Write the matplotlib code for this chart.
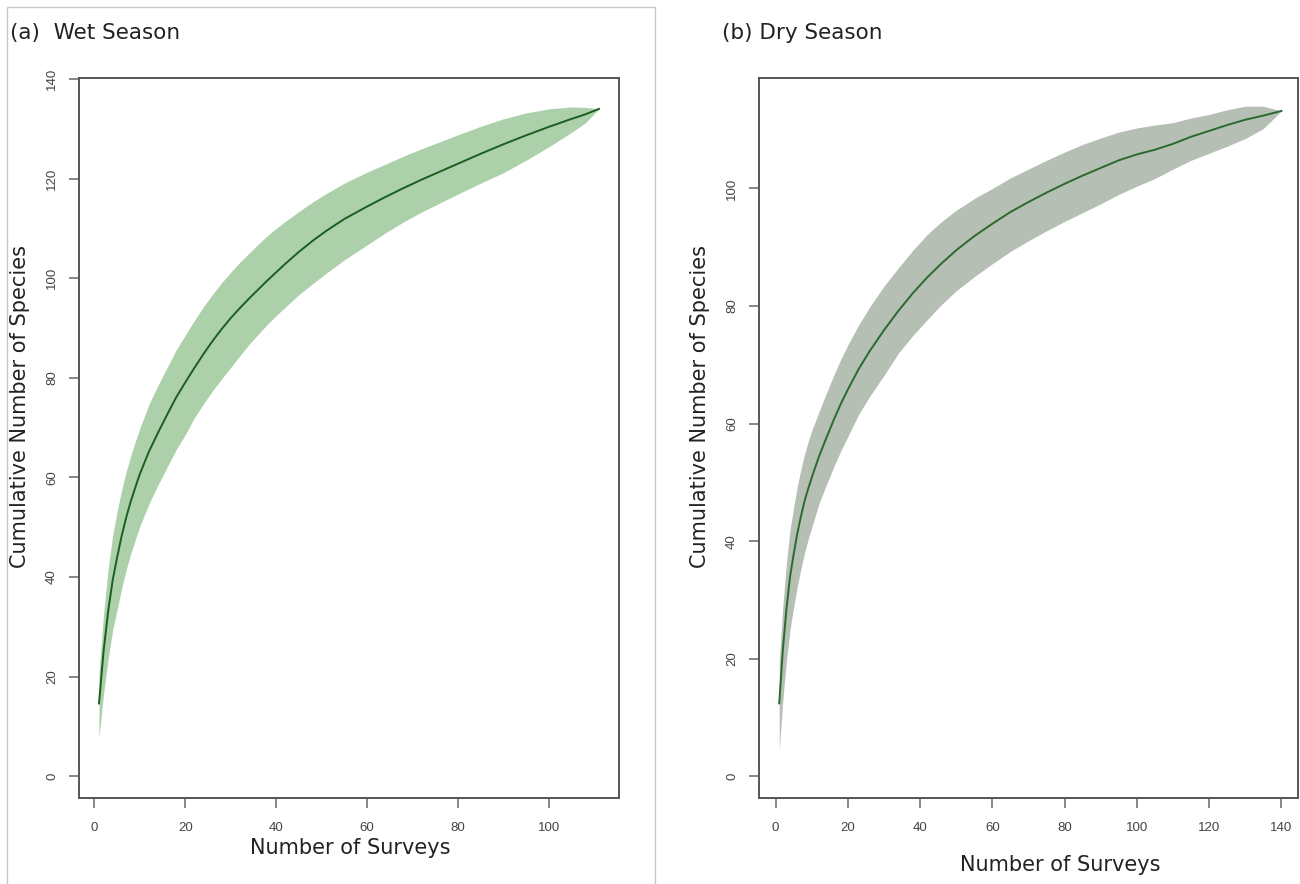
import matplotlib
matplotlib.use("Agg")
import matplotlib.pyplot as plt
from matplotlib.patches import Rectangle

# ---- Data ----
wet_x = [1, 2, 3, 4, 5, 6, 7, 8, 9, 10, 12, 14, 16, 18, 20, 22, 24, 26, 28, 30,
         32, 34, 36, 38, 40, 42, 45, 48, 51, 55, 60, 64, 68, 72, 76, 80, 85, 90,
         95, 100, 105, 108, 111]
wet_mean = [14.6, 25, 33, 39.3, 44, 48.3, 52, 55.2, 58, 60.7, 65.2, 69.0, 72.6, 76.1,
            79.1, 82.0, 84.8, 87.4, 89.8, 92.0, 94.0, 95.9, 97.7, 99.5, 101.2, 102.9,
            105.3, 107.5, 109.5, 111.9, 114.4, 116.3, 118.1, 119.8, 121.4, 123.0,
            125.0, 126.9, 128.7, 130.4, 132.0, 132.9, 134.0]
wet_upper = [20.6, 32.5, 41.5, 48.3, 53.2, 57.5, 61.2, 64.4, 67.2, 69.9, 74.7, 78.5,
             82.1, 85.6, 88.6, 91.5, 94.3, 96.8, 99.1, 101.2, 103.2, 105.0, 106.8,
             108.5, 110.0, 111.4, 113.4, 115.3, 117.0, 119.1, 121.3, 122.9, 124.5,
             126.0, 127.4, 128.8, 130.5, 132.0, 133.2, 134.0, 134.4, 134.3, 134.0]
wet_lower = [7.6, 16.5, 23.5, 29.3, 33.5, 37.8, 41.5, 44.7, 47.5, 50.2, 54.7, 58.5,
             62.1, 65.6, 68.6, 72.0, 74.8, 77.4, 79.8, 82.1, 84.4, 86.7, 88.7, 90.7,
             92.5, 94.2, 96.7, 98.9, 101.0, 103.7, 106.7, 109.1, 111.3, 113.3, 115.1,
             116.9, 119.1, 121.2, 123.7, 126.4, 129.3, 131.2, 134.0]

dry_x = [1, 2, 3, 4, 5, 6, 7, 8, 9, 10, 12, 14, 16, 18, 20, 23, 26, 30, 34, 38, 42,
         46, 50, 55, 60, 65, 70, 75, 80, 85, 90, 95, 100, 105, 110, 115, 120, 125,
         130, 135, 140]
dry_mean = [12.4, 21.5, 28.5, 34, 37.8, 41.3, 44.2, 46.8, 48.9, 50.8, 54.4, 57.5,
            60.5, 63.3, 65.8, 69.3, 72.3, 75.9, 79.2, 82.2, 84.9, 87.3, 89.5, 91.9,
            94.0, 96.0, 97.7, 99.3, 100.8, 102.2, 103.5, 104.8, 105.8, 106.6, 107.6,
            108.8, 109.8, 110.8, 111.7, 112.4, 113.2]
dry_upper = [19.4, 29.0, 36.3, 42.0, 45.8, 49.3, 52.2, 54.8, 56.9, 58.8, 62.0, 65.1,
             68.1, 70.9, 73.4, 76.8, 79.8, 83.4, 86.5, 89.5, 92.2, 94.4, 96.3, 98.3,
             100.0, 101.8, 103.3, 104.8, 106.2, 107.5, 108.6, 109.6, 110.3, 110.8,
             111.2, 112.0, 112.6, 113.4, 114.0, 114.0, 113.2]
dry_lower = [4.4, 13.0, 19.7, 25.0, 28.8, 32.3, 35.3, 38.0, 40.3, 42.3, 46.4, 49.5,
             52.5, 55.3, 57.8, 61.6, 64.6, 68.2, 72.0, 75.0, 77.7, 80.3, 82.6, 85.0,
             87.2, 89.3, 91.1, 92.8, 94.4, 95.9, 97.4, 99.0, 100.4, 101.7, 103.3,
             104.8, 106.0, 107.2, 108.5, 110.2, 113.2]

wet_xticks = [0, 20, 40, 60, 80, 100]
wet_yticks = [0, 20, 40, 60, 80, 100, 120, 140]
dry_xticks = [0, 20, 40, 60, 80, 100, 120, 140]
dry_yticks = [0, 20, 40, 60, 80, 100]

W, H = 1300, 884
fig = plt.figure(figsize=(W / 100, H / 100), dpi=100)
fig.patch.set_facecolor("white")

# panel frame around left panel
fig.add_artist(Rectangle((7 / W, -0.01), (655 - 7) / W, (H - 7) / H + 0.01,
                         transform=fig.transFigure, fill=False,
                         edgecolor="#c8c8c8", linewidth=1.0))

def px_axes(x0, x1, ytop, ybot):
    return fig.add_axes([x0 / W, (H - ybot) / H, (x1 - x0) / W, (ybot - ytop) / H])

ax1 = px_axes(79, 619, 78, 798)
ax2 = px_axes(759, 1298, 78, 798)

def style(ax, xt, yt, xlim, ylim):
    ax.set_xlim(*xlim)
    ax.set_ylim(*ylim)
    ax.set_xticks(xt)
    ax.set_yticks(yt)
    for s in ax.spines.values():
        s.set_color("#555555")
        s.set_linewidth(1.4)
    ax.tick_params(axis="both", direction="out", length=7, width=1.1,
                   color="#666666", labelcolor="#444444", labelsize=9.5)
    ax.tick_params(axis="x", pad=10)
    ax.tick_params(axis="y", pad=8)
    for lab in ax.get_xticklabels() + ax.get_yticklabels():
        lab.set_family("Liberation Sans")
    for lab in ax.get_yticklabels():
        lab.set_rotation(90)
        lab.set_va("center")

ax1.fill_between(wet_x, wet_lower, wet_upper, color="#acd0aa", linewidth=0)
ax1.plot(wet_x, wet_mean, color="#1b5e20", linewidth=1.4)
style(ax1, wet_xticks, wet_yticks, (-3.4, 115.4), (-4.4, 140.2))

ax2.fill_between(dry_x, dry_lower, dry_upper, color="#b5bfb4", linewidth=0)
ax2.plot(dry_x, dry_mean, color="#2a6a2e", linewidth=1.4)
style(ax2, dry_xticks, dry_yticks, (-4.6, 144.6), (-3.7, 118.8))

lab_font = dict(family="DejaVu Sans", size=15, color="#222222")
fig.text(20 / W, 1 - 406 / H, "Cumulative Number of Species", rotation=90,
         ha="center", va="center", **lab_font)
fig.text(700 / W, 1 - 406 / H, "Cumulative Number of Species", rotation=90,
         ha="center", va="center", **lab_font)
fig.text(350 / W, 1 - 848 / H, "Number of Surveys", ha="center", va="center", **lab_font)
fig.text(1060 / W, 1 - 865 / H, "Number of Surveys", ha="center", va="center", **lab_font)

title_font = dict(family="DejaVu Sans", size=15.5, color="#222222")
fig.text(10 / W, 1 - 33 / H, "(a)  Wet Season", ha="left", va="center", **title_font)
fig.text(722 / W, 1 - 33 / H, "(b) Dry Season", ha="left", va="center", **title_font)

fig.savefig("out.png", dpi=100, facecolor="white")
